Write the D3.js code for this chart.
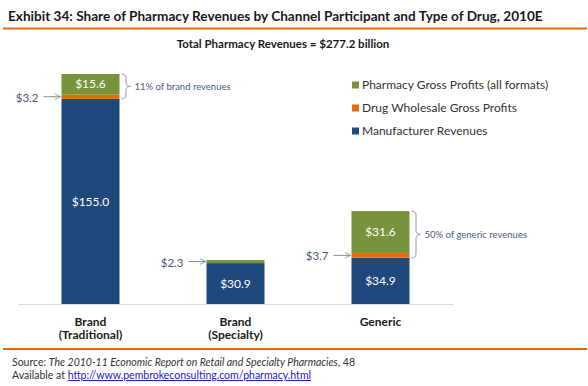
<!DOCTYPE html>
<html>
<head>
<meta charset="utf-8">
<script src="https://cdn.jsdelivr.net/npm/d3@7"></script>
<style>
  body { margin: 0; background: #fff; }
  text { font-family: Lato, "Open Sans", sans-serif; }
</style>
</head>
<body>
<script>
var categories = ["Brand (Traditional)", "Brand (Specialty)", "Generic"];
var seriesNames = ["Manufacturer Revenues", "Drug Wholesale Gross Profits", "Pharmacy Gross Profits (all formats)"];
var manufacturer = [155.0, 30.9, 34.9];
var wholesale = [3.2, 0, 3.7];
var pharmacy = [15.6, 2.3, 31.6];
var callouts = [3.2, 2.3, 3.7];
var braceNotes = ["11% of brand revenues", null, "50% of generic revenues"];
var colors = ["#1f497d", "#e46c0a", "#77933c"];

var svg = d3.select("body").append("svg").attr("width", 588).attr("height", 386);

var rows = categories.map(function(c, i){
  return {cat: c, m: manufacturer[i], w: wholesale[i], p: pharmacy[i]};
});
var stack = d3.stack().keys(["m", "w", "p"])(rows);

var x = d3.scaleBand().domain(categories).range([18, 453]).paddingInner(0.6).paddingOuter(0.3);
var y = d3.scaleLinear().domain([0, 200]).range([304, 39.3]);

// header
svg.append("text").attr("x", 8).attr("y", 21)
  .attr("font-size", 13.6).attr("font-weight", "bold").attr("fill", "#1a1a1a")
  .text("Exhibit 34: Share of Pharmacy Revenues by Channel Participant and Type of Drug, 2010E");
svg.append("line").attr("x1", 3).attr("x2", 587).attr("y1", 28.5).attr("y2", 28.5)
  .attr("stroke", "#e46c0a").attr("stroke-width", 2);
svg.append("text").attr("x", 283).attr("y", 48).attr("text-anchor", "middle")
  .attr("font-size", 11.5).attr("font-weight", "bold").attr("fill", "#1a1a1a")
  .text("Total Pharmacy Revenues = $277.2 billion");

// bars
svg.selectAll("g.layer")
  .data(stack)
  .enter().append("g")
    .attr("class", "layer")
    .attr("fill", function(d, i){ return colors[i]; })
  .selectAll("rect")
  .data(function(d){ return d; })
  .enter().append("rect")
    .attr("x", function(d){ return x(d.data.cat); })
    .attr("width", x.bandwidth())
    .attr("y", function(d){ return y(d[1]); })
    .attr("height", function(d){ return y(d[0]) - y(d[1]); });

// axis
var axis = svg.append("g").attr("transform", "translate(0,304)")
  .call(d3.axisBottom(x).tickSize(0).tickSizeOuter(0).tickPadding(13));
axis.select(".domain").attr("stroke", "#d9d9d9");
axis.selectAll(".tick text").each(function(d){
  var t = d3.select(this).text("").attr("font-size", 12).attr("font-weight", "bold")
    .attr("fill", "#1a1a1a").attr("font-family", "Lato, sans-serif");
  var parts = d.indexOf("(") > 0 ? [d.slice(0, d.indexOf(" (")), d.slice(d.indexOf("(") )] : [d];
  parts.forEach(function(p, i){
    t.append("tspan").attr("x", 0).attr("dy", i == 0 ? "0.71em" : "1.15em").text(p);
  });
});

// value labels inside bars
svg.selectAll("text.inm")
  .data(rows)
  .enter().append("text")
    .attr("class", "inm")
    .attr("x", function(d){ return x(d.cat) + x.bandwidth()/2; })
    .attr("y", function(d){ return (y(0) + y(d.m))/2; })
    .attr("dy", "0.35em").attr("text-anchor", "middle")
    .attr("font-size", 12).attr("fill", "#fff")
    .text(function(d){ return "$" + d.m.toFixed(1); });
svg.selectAll("text.inp")
  .data(rows.filter(function(d){ return d.p > 10; }))
  .enter().append("text")
    .attr("class", "inp")
    .attr("x", function(d){ return x(d.cat) + x.bandwidth()/2; })
    .attr("y", function(d){ return (y(d.m + d.w) + y(d.m + d.w + d.p))/2; })
    .attr("dy", "0.35em").attr("text-anchor", "middle")
    .attr("font-size", 12).attr("fill", "#fff")
    .text(function(d){ return "$" + d.p.toFixed(1); });

// callouts with arrows
var defs = svg.append("defs");
defs.append("marker").attr("id", "arr").attr("viewBox", "0 0 10 10")
  .attr("refX", 9).attr("refY", 5).attr("markerWidth", 7).attr("markerHeight", 7)
  .attr("markerUnits", "userSpaceOnUse").attr("orient", "auto")
  .append("path").attr("d", "M1,1 L9,5 L1,9").attr("fill", "none")
  .attr("stroke", "#7f8da3").attr("stroke-width", 1.2);

callouts.forEach(function(v, i){
  var cy = y(manufacturer[i] + v/2);
  var left = x(categories[i]);
  svg.append("line").attr("x1", left - 18).attr("x2", left - 1)
    .attr("y1", cy).attr("y2", cy)
    .attr("stroke", "#7f8da3").attr("stroke-width", 1)
    .attr("marker-end", "url(#arr)");
  svg.append("text").attr("x", left - 23).attr("y", cy + 1).attr("dy", "0.35em")
    .attr("text-anchor", "end").attr("font-size", 11.5).attr("fill", "#4a5a75")
    .text("$" + v.toFixed(1));
});

// braces
function brace(x0, y1, y2, w) {
  var ym = (y1 + y2)/2, xm = x0 + w/2, r = 4;
  return "M" + x0 + "," + y1 + " Q" + xm + "," + y1 + " " + xm + "," + (y1 + r) +
    " L" + xm + "," + (ym - r) + " Q" + xm + "," + ym + " " + (x0 + w) + "," + ym +
    " Q" + xm + "," + ym + " " + xm + "," + (ym + r) +
    " L" + xm + "," + (y2 - r) + " Q" + xm + "," + y2 + " " + x0 + "," + y2;
}
braceNotes.forEach(function(n, i){
  if (!n) return;
  var x0 = x(categories[i]) + x.bandwidth() + 2;
  var y1 = y(manufacturer[i] + wholesale[i] + pharmacy[i]);
  var y2 = y(manufacturer[i]);
  svg.append("path").attr("d", brace(x0, y1, y2, 9))
    .attr("fill", "none").attr("stroke", "#8c9bb0").attr("stroke-width", 1);
  svg.append("text").attr("x", x0 + 13).attr("y", (y1 + y2)/2).attr("dy", "0.35em")
    .attr("font-size", 9.5).attr("fill", "#4a5f80").text(n);
});

// legend
var legend = svg.selectAll("g.leg")
  .data([2, 1, 0])
  .enter().append("g")
    .attr("class", "leg")
    .attr("transform", function(d, i){ return "translate(352," + (85 + i*23) + ")"; });
legend.append("rect").attr("x", 0).attr("y", -3.5).attr("width", 7).attr("height", 7)
  .attr("fill", function(d){ return colors[d]; });
legend.append("text").attr("x", 10).attr("y", 0).attr("dy", "0.35em")
  .attr("font-size", 12).attr("fill", "#333")
  .text(function(d){ return seriesNames[d]; });

// footer
svg.append("line").attr("x1", 3).attr("x2", 587).attr("y1", 349).attr("y2", 349)
  .attr("stroke", "#e46c0a").attr("stroke-width", 2);
var src = svg.append("text").attr("x", 12).attr("y", 366).attr("font-size", 10.5).attr("fill", "#333");
src.append("tspan").text("Source: ");
src.append("tspan").attr("font-style", "italic").text("The 2010-11 Economic Report on Retail and Specialty Pharmacies");
src.append("tspan").text(", 48");
var av = svg.append("text").attr("x", 12).attr("y", 379).attr("font-size", 10.5).attr("fill", "#333");
av.append("tspan").text("Available at ");
av.append("tspan").attr("fill", "#2222cc").attr("text-decoration", "underline")
  .text("http://www.pembrokeconsulting.com/pharmacy.html");
</script>
</body>
</html>
